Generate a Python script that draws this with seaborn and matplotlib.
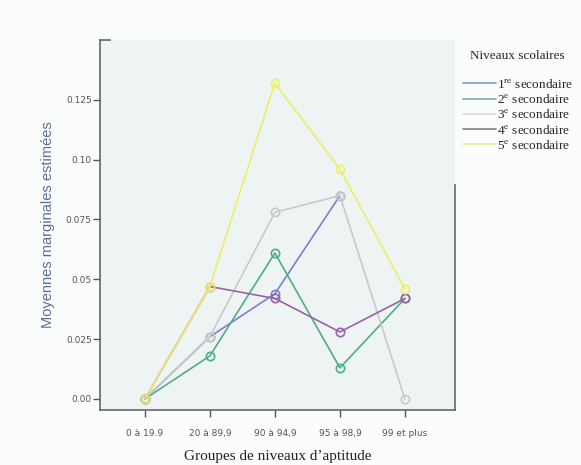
import numpy as np
import pandas as pd
import seaborn as sns
import matplotlib.pyplot as plt
from matplotlib.lines import Line2D

# data
groupes = ["0 à 19.9", "20 à 89,9", "90 à 94,9", "95 à 98,9", "99 et plus"]
niveaux = ["1re", "2e", "3e", "4e", "5e"]
niveau_labels = [r"1$^{\mathrm{re}}$ secondaire", r"2$^{\mathrm{e}}$ secondaire",
                 r"3$^{\mathrm{e}}$ secondaire", r"4$^{\mathrm{e}}$ secondaire",
                 r"5$^{\mathrm{e}}$ secondaire"]
sec1 = [0.0, 0.026, 0.044, 0.085, np.nan]
sec2 = [0.0, 0.018, 0.061, 0.013, 0.042]
sec3 = [0.0, 0.026, 0.078, 0.085, 0.0]
sec4 = [0.0, 0.047, 0.042, 0.028, 0.042]
sec5 = [0.0, 0.047, 0.132, 0.096, 0.046]
y_ticks = [0.0, 0.025, 0.05, 0.075, 0.10, 0.125]
y_ticklabels = ["0.00", "0.025", "0.05", "0.075", "0.10", "0.125"]

colors = ["#7b7fd6", "#4fae80", "#c9cbc4", "#9a62a6", "#eeee66"]
legend_colors = ["#7f9bb8", "#6fb0a8", "#d8dcd8", "#7c8088", "#eaee9a"]

rows = []
for niv, vals in zip(niveaux, [sec1, sec2, sec3, sec4, sec5]):
    for g, v in zip(groupes, vals):
        rows.append({"Groupe": g, "Niveau": niv, "Moyenne": v})
df = pd.DataFrame(rows).dropna()

sns.set_theme(style="white")
plt.rcParams["mathtext.fontset"] = "stix"

fig = plt.figure(figsize=(5.81, 4.65), dpi=100, facecolor="#fbfcfc")
ax = fig.add_axes([100 / 581, 1 - 410 / 465, 355 / 581, 370 / 465])
ax.set_facecolor("#eef3f4")

sns.lineplot(data=df, x="Groupe", y="Moyenne", hue="Niveau", hue_order=niveaux,
             palette=colors, marker="o", markersize=6, markerfacecolor="none",
             markeredgewidth=1.2, linewidth=1.2, sort=False, legend=False, ax=ax)
# open circles in the line colour
for ln in ax.lines:
    ln.set_markeredgecolor(ln.get_color())
    ln.set_markerfacecolor("none")

ax.set_xlim(-0.69, 4.77)
ax.set_ylim(-0.0046, 0.150)
ax.set_yticks(y_ticks)
ax.set_yticklabels(y_ticklabels)
ax.tick_params(axis="both", length=5, width=1, color="#555555", labelsize=6.5,
               labelcolor="#555555", direction="out", left=True, bottom=True)
ax.tick_params(axis="x", pad=9)
ax.tick_params(axis="y", pad=1)

for s in ax.spines.values():
    s.set_color("#666666")
    s.set_linewidth(1.2)
ax.spines["right"].set_bounds(-0.0046, 0.0895)
ax.spines["top"].set_bounds(-0.69, -0.53)

ax.set_ylabel("Moyennes marginales estimées", fontsize=10.5, color="#5d6d98",
              family="Liberation Sans", labelpad=8)
ax.set_xlabel("Groupes de niveaux d\u2019aptitude", fontsize=11,
              family="Liberation Serif", color="#222222", labelpad=8)

handles = [Line2D([0], [0], color=c, lw=1.2) for c in legend_colors]
leg = ax.legend(handles, niveau_labels, title="Niveaux scolaires\n",
                loc="upper left", bbox_to_anchor=(451 / 581, 1 - 38 / 465),
                bbox_transform=fig.transFigure, frameon=False,
                handlelength=2.5, handletextpad=0.05, labelspacing=0.17,
                prop={"family": "Liberation Serif", "size": 9.5})
leg.get_title().set_fontfamily("Liberation Serif")
leg.get_title().set_fontsize(9.5)

fig.savefig("out.png", dpi=100, facecolor=fig.get_facecolor())
